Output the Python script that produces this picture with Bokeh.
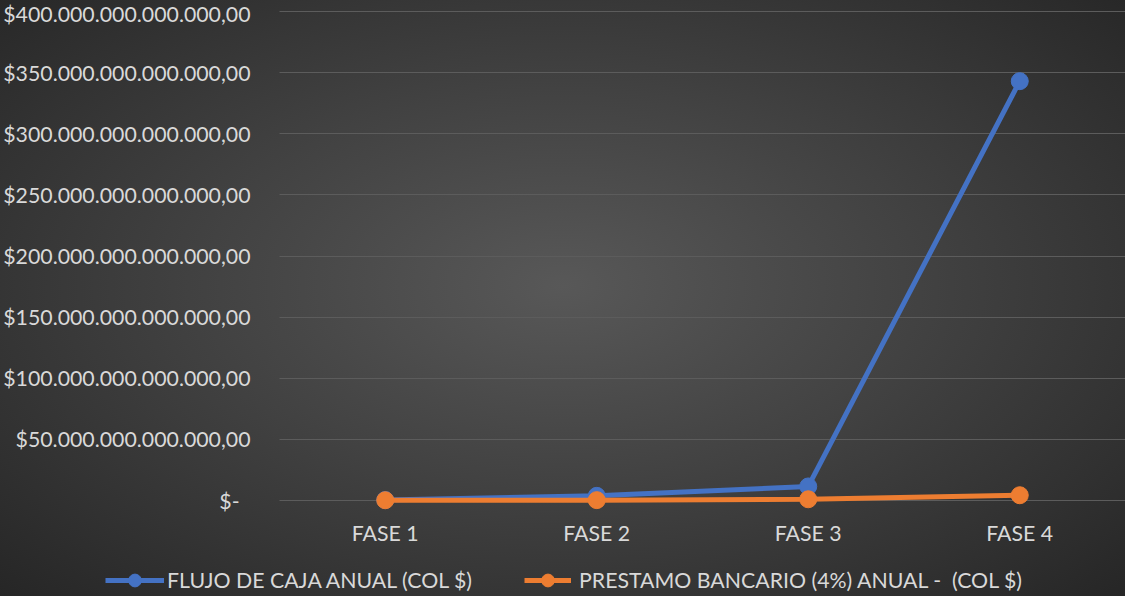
from bokeh.plotting import figure
from bokeh.models import (Range1d, FixedTicker, CustomJSTickFormatter,
                          Legend, LegendItem, ColumnDataSource)
from bokeh.embed import file_html
from bokeh.resources import INLINE

# ---- data ----
categories = ["FASE 1", "FASE 2", "FASE 3", "FASE 4"]
flujo_caja = [0.4e12, 3.8e12, 11.5e12, 343e12]
prestamo = [0.2e12, 0.3e12, 1.0e12, 4.3e12]
y_ticks = [0, 5e13, 1e14, 1.5e14, 2e14, 2.5e14, 3e14, 3.5e14, 4e14]
series_names = ["FLUJO DE CAJA ANUAL (COL $)", "PRESTAMO BANCARIO (4%) ANUAL -  (COL $)"]

# ---- layout / style ----
W, H = 1125, 596
PLOT_LEFT, PLOT_TOP, PLOT_BOTTOM = 279, 11, 500   # pixel edges of the plotting area
FONT = "Lato"
TEXT = "#d9d9d9"
BLUE = "#4472C4"
ORANGE = "#ED7D31"
FS = "21.3px"

n = len(categories)
xpos = [i + 0.5 for i in range(n)]
ymax = y_ticks[-1]
ux = (W - PLOT_LEFT) / n                # px per category
uy = ymax / (PLOT_BOTTOM - PLOT_TOP)    # value per px

src = ColumnDataSource(dict(x=xpos, flujo=flujo_caja, prest=prestamo))

p = figure(width=W, height=H,
           x_range=Range1d(-PLOT_LEFT / ux, n),
           y_range=Range1d(-(H - PLOT_BOTTOM) * uy, ymax + PLOT_TOP * uy),
           output_backend="svg", toolbar_location=None,
           min_border=0)

p.border_fill_color = None
p.background_fill_color = None
p.outline_line_color = None
p.styles = {
    "background": "radial-gradient(ellipse farthest-corner at 50% 48%, #585858 0%, #424242 45%, #262626 100%)",
}

# grid
p.xgrid.visible = False
p.ygrid.grid_line_color = "#5c5c5c"
p.ygrid.grid_line_width = 1
p.ygrid.cross_bounds = (0, n)

# axes
p.yaxis.ticker = FixedTicker(ticks=y_ticks)
p.yaxis.formatter = CustomJSTickFormatter(code="""
    if (tick == 0) { return "$-\u00a0\u00a0"; }
    var s = Math.round(tick).toString();
    s = s.replace(/\\B(?=(\\d{3})+(?!\\d))/g, ".");
    return "$" + s + ",00";
""")
p.xaxis.ticker = FixedTicker(ticks=xpos)
p.xaxis.major_label_overrides = {x: c for x, c in zip(xpos, categories)}
p.yaxis.fixed_location = 0
p.xaxis.fixed_location = 0
for ax in (p.yaxis[0], p.xaxis[0]):
    ax.axis_line_color = None
    ax.major_tick_line_color = None
    ax.minor_tick_line_color = None
    ax.major_tick_in = 0
    ax.major_tick_out = 0
    ax.major_label_text_font = FONT
    ax.major_label_text_font_size = FS
    ax.major_label_text_color = TEXT
p.yaxis.major_label_standoff = 29
p.xaxis.major_label_standoff = 19

# series
l1 = p.line("x", "flujo", source=src, line_color=BLUE, line_width=5)
m1 = p.scatter("x", "flujo", source=src, size=17, fill_color=BLUE, line_color=BLUE)
l2 = p.line("x", "prest", source=src, line_color=ORANGE, line_width=5)
m2 = p.scatter("x", "prest", source=src, size=17, fill_color=ORANGE, line_color=ORANGE)

def make_legend(name, renderers, loc, gw, standoff):
    lg = Legend(items=[LegendItem(label=name, renderers=renderers)],
                location=loc, orientation="horizontal",
                padding=0, margin=0, spacing=0,
                glyph_width=gw, glyph_height=32, label_height=32,
                label_standoff=standoff,
                label_text_font=FONT, label_text_font_size=FS,
                label_text_color=TEXT,
                background_fill_alpha=0, border_line_alpha=0)
    p.add_layout(lg, "center")

make_legend(series_names[0], [l1, m1], (105, 0), 59, 3)
make_legend(series_names[1], [l2, m2], (524, 0), 47, 8)

open("out.html", "w").write(file_html(p, INLINE))
